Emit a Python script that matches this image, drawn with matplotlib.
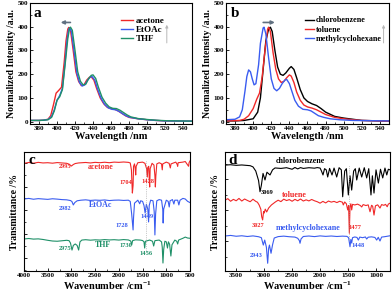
import numpy as np
import matplotlib
matplotlib.use("Agg")
import matplotlib.pyplot as plt
from matplotlib.ticker import MultipleLocator

plt.rcParams['font.family'] = ['Liberation Serif', 'DejaVu Serif']
plt.rcParams['font.weight'] = 'bold'
plt.rcParams['axes.labelweight'] = 'bold'
plt.rcParams['xtick.direction'] = 'in'
plt.rcParams['ytick.direction'] = 'in'
plt.rcParams['mathtext.fontset'] = 'custom'
plt.rcParams['mathtext.rm'] = 'Liberation Serif:bold'
plt.rcParams['mathtext.bf'] = 'Liberation Serif:bold'
plt.rcParams['mathtext.default'] = 'bf'

# ---- panel a : emission in polar solvents ----
wl_acetone = [370, 380, 385, 390, 393, 396, 399, 402, 405, 408, 410, 412, 413, 415, 418, 421, 424, 427,
              430, 433, 436, 438, 441, 444, 448, 452, 456, 460, 464, 468, 472, 476, 480, 490, 500, 510, 520, 550]
int_acetone = [5, 5, 6, 10, 25, 70, 120, 132, 145, 250, 340, 390, 397, 385, 300, 210, 170, 152,
               155, 175, 187, 189, 175, 140, 100, 75, 60, 55, 52, 45, 35, 25, 18, 12, 8, 5, 3, 2]
wl_etoac = [370, 380, 385, 390, 394, 397, 400, 403, 406, 409, 411, 413, 414, 416, 419, 422, 425, 428,
            431, 434, 437, 439, 442, 445, 449, 453, 457, 461, 465, 469, 473, 477, 481, 490, 500, 510, 520, 550]
int_etoac = [5, 5, 6, 9, 22, 50, 90, 110, 140, 250, 340, 390, 395, 380, 295, 205, 165, 150,
             155, 175, 188, 190, 175, 138, 98, 72, 58, 52, 50, 43, 33, 24, 18, 12, 8, 5, 3, 2]
wl_thf = [370, 380, 385, 390, 394, 397, 400, 403, 406, 409, 412, 414, 415, 417, 420, 423, 426, 429,
          432, 435, 438, 440, 443, 446, 450, 454, 458, 462, 466, 470, 474, 478, 482, 490, 500, 510, 520, 550]
int_thf = [5, 5, 6, 8, 18, 45, 90, 105, 135, 240, 350, 395, 398, 385, 300, 210, 170, 155,
           158, 180, 195, 197, 182, 145, 103, 78, 62, 56, 55, 48, 38, 28, 20, 13, 9, 6, 4, 2]

# ---- panel b : emission in apolar solvents ----
wl_chloro = [370, 380, 390, 400, 405, 408, 411, 414, 417, 419, 421, 424, 427, 430, 433, 436, 440, 442,
             445, 448, 452, 456, 460, 465, 470, 475, 480, 490, 500, 510, 520, 550]
int_chloro = [3, 3, 5, 12, 40, 100, 220, 340, 390, 398, 380, 300, 230, 200, 195, 205, 225, 232,
              220, 185, 135, 100, 85, 75, 68, 55, 40, 22, 15, 10, 5, 2]
wl_toluene = [370, 385, 390, 395, 400, 404, 407, 410, 413, 416, 417, 419, 422, 425, 428, 431, 434, 437,
              440, 442, 445, 448, 452, 456, 460, 465, 470, 475, 480, 490, 500, 510, 520, 550]
int_toluene = [3, 5, 10, 25, 55, 95, 120, 190, 300, 390, 398, 380, 290, 220, 180, 165, 170, 185,
               197, 192, 165, 125, 90, 70, 62, 57, 50, 40, 30, 18, 12, 8, 5, 2]
wl_mch = [370, 380, 385, 388, 391, 393, 395, 397, 399, 401, 403, 406, 408, 411, 412, 414, 417, 420,
          423, 426, 429, 432, 435, 437, 440, 443, 446, 450, 455, 460, 464, 468, 472, 478, 485, 495, 510, 550]
int_mch = [8, 10, 20, 50, 130, 190, 218, 210, 180, 155, 160, 240, 330, 395, 398, 370, 270, 180,
           140, 130, 140, 160, 175, 178, 160, 125, 90, 65, 52, 50, 45, 35, 25, 18, 12, 8, 5, 3]

# ---- panel c : IR of polar solvents (stacked, arbitrary units) ----
wn_acetone = [4000, 3900, 3800, 3700, 3600, 3500, 3400, 3300, 3200, 3100, 3050, 3000, 2960, 2920, 2850,
              2700, 2600, 2500, 2400, 2300, 2200, 2100, 2000, 1900, 1800, 1760, 1735, 1715, 1700, 1690,
              1670, 1655, 1645, 1635, 1600, 1500, 1450, 1415, 1400, 1390, 1370, 1358, 1350, 1340, 1300,
              1260, 1240, 1230, 1220, 1200, 1150, 1100, 1085, 1075, 1000, 940, 915, 900, 800, 770, 760,
              750, 650, 600, 530, 520, 500]
tr_acetone = [90.5, 91.2, 90.6, 91.3, 90.8, 91.0, 90.6, 91.1, 90.8, 90.5, 89.8, 88.2, 89.5, 90.3, 90.8,
              91.2, 90.8, 91.3, 91.0, 91.4, 91.0, 91.5, 91.3, 91.6, 91.3, 90.8, 85, 65.5, 72, 88,
              90, 86, 80.7, 88, 91, 91.5, 90.5, 86, 79, 87, 88, 76, 70.6, 86, 90.5,
              89, 80, 70.6, 80, 90, 91, 90, 85, 90, 91.5, 90.5, 86.6, 90, 91.5, 89.5, 88,
              91, 91.5, 92, 88, 91, 92.5]
wn_etoac = [4000, 3900, 3800, 3700, 3600, 3500, 3400, 3300, 3200, 3100, 3020, 2990, 2960, 2930, 2880,
            2800, 2700, 2600, 2500, 2400, 2300, 2200, 2100, 2000, 1900, 1800, 1760, 1730, 1700, 1690,
            1670, 1600, 1560, 1540, 1500, 1470, 1446, 1420, 1390, 1373, 1360, 1330, 1280, 1255, 1240,
            1225, 1200, 1150, 1100, 1075, 1066, 1055, 1000, 960, 938, 920, 870, 840, 820, 760, 735,
            710, 650, 600, 550, 500]
tr_etoac = [60.5, 61, 60.3, 60.8, 60.5, 60.2, 60.7, 60.4, 60.0, 59.8, 59.2, 58.4, 55.5, 57.5, 59.0,
            59.5, 59.8, 59.3, 59.6, 59.4, 59.7, 59.2, 59.5, 59.6, 59.3, 59.5, 58.5, 48, 34.5, 45,
            57, 59.5, 56.5, 59, 58.5, 55, 48.7, 56, 52, 41.2, 55, 59.5, 59, 50, 30.3,
            48, 59, 60, 59.5, 52, 40.3, 52, 59.5, 58.5, 53.8, 59, 60, 56.3, 59.5, 59.5, 55.5,
            59.5, 61, 60.5, 58.5, 57.5]
wn_thf = [4000, 3900, 3800, 3700, 3600, 3500, 3400, 3300, 3200, 3100, 3050, 3020, 2988, 2960, 2920,
          2880, 2848, 2820, 2780, 2700, 2600, 2500, 2400, 2300, 2200, 2100, 2000, 1900, 1800, 1750,
          1730, 1710, 1650, 1550, 1500, 1470, 1456, 1440, 1350, 1290, 1266, 1240, 1150, 1100, 1085,
          1070, 1055, 1030, 1000, 975, 955, 930, 903, 880, 820, 780, 760, 740, 650, 600, 550, 500]
tr_thf = [26.9, 27.3, 26.8, 27.0, 26.5, 25.8, 25.2, 25.0, 25.4, 25.8, 25.5, 23.5, 17.6, 21.5, 22.7,
          21.5, 17.6, 24.5, 26.0, 26.3, 25.9, 26.2, 26.0, 26.4, 26.1, 26.3, 26.0, 26.4, 26.1, 25.2,
          21.8, 25.5, 26.2, 26.0, 25.6, 24.5, 19.3, 25.0, 26.0, 25.0, 21.0, 25.5, 26.0, 24.5, 20,
          6.7, 18, 25, 24.5, 19.3, 24.5, 22.5, 12.6, 22, 26, 25, 22.7, 26, 27.5, 28.5, 27.7, 27.5]

# ---- panel d : IR of apolar solvents (stacked, arbitrary units) ----
wn_chloro = [3700, 3600, 3500, 3400, 3300, 3250, 3200, 3150, 3100, 3074, 3050, 3020, 2985, 2950, 2895,
             2850, 2806, 2700, 2600, 2500, 2450, 2400, 2350, 2300, 2200, 2100, 2050, 2000, 1975, 1948,
             1920, 1890, 1864, 1830, 1787, 1750, 1703, 1660, 1620, 1596, 1560, 1530, 1495, 1465, 1435,
             1400, 1370, 1345, 1300, 1256, 1210, 1167, 1130, 1090, 1065, 1036, 1000, 958, 920, 880,
             840, 808, 780, 750]
tr_chloro = [89, 89.3, 88.8, 89.1, 88.7, 88.5, 87.5, 84, 76, 66.6, 72, 82, 76.5, 83, 80.7,
             85, 86.6, 86.2, 86.8, 85.5, 87, 85.8, 86.9, 86.2, 86.8, 86.4, 86.9, 86.5, 84, 80.7,
             86, 85, 79, 86.2, 80.7, 86.5, 79, 86.8, 85, 62.4, 84, 86, 63.9, 80, 68,
             84, 86, 76.5, 86.5, 79, 86.8, 78.2, 86, 63.9, 80, 65.5, 85, 73.9, 85.5, 78.2,
             86.5, 80.7, 85.5, 85]
wn_tol = [3700, 3650, 3600, 3550, 3500, 3450, 3400, 3350, 3300, 3250, 3200, 3150, 3120, 3090, 3060,
          3044, 3027, 3010, 3000, 2980, 2955, 2920, 2870, 2800, 2750, 2700, 2650, 2600, 2550, 2500,
          2450, 2400, 2350, 2300, 2250, 2200, 2150, 2100, 2050, 2000, 1950, 1900, 1850, 1800, 1750,
          1700, 1650, 1600, 1585, 1560, 1530, 1506, 1490, 1477, 1465, 1450, 1435, 1420, 1380, 1330,
          1280, 1256, 1230, 1180, 1140, 1107, 1080, 1060, 1036, 1010, 970, 929, 900, 860, 830,
          800, 780, 750]
tr_tol = [59.5, 60.8, 58.6, 60.2, 59.0, 61.0, 58.8, 60.5, 59.3, 58.2, 60.3, 58.5, 57.8, 55.5, 52,
          45.6, 42.9, 50, 48.7, 52, 49.6, 52.9, 55.5, 58, 59.5, 58.3, 60.4, 59.2, 60.0, 58.6,
          60.2, 59.0, 60.5, 58.8, 59.8, 58.9, 60.1, 59.0, 58.2, 57, 58.5, 57.2, 58.8, 57.9, 58.5,
          57.5, 58.6, 57.8, 55.5, 58, 56.5, 51.3, 55, 31.7, 54, 56.5, 51.3, 56, 55.5, 56.2,
          55.0, 53.8, 55.8, 55.0, 55.6, 49.8, 55.2, 54.5, 47, 54.8, 55.6, 52.9, 55.8, 55.2, 56,
          54, 56.2, 57]
wn_mch = [3700, 3600, 3500, 3400, 3300, 3200, 3100, 3050, 3015, 2990, 2960, 2937, 2920, 2905, 2877,
          2850, 2820, 2750, 2650, 2550, 2450, 2400, 2370, 2359, 2340, 2300, 2200, 2100, 2000, 1900,
          1800, 1700, 1600, 1520, 1490, 1465, 1450, 1435, 1420, 1380, 1340, 1316, 1290, 1240, 1190,
          1167, 1140, 1080, 1020, 988, 960, 929, 900, 850, 800, 750]
tr_mch = [29.4, 29.9, 29.2, 29.6, 29.0, 29.5, 28.8, 28.0, 21.8, 26, 20, 6.5, 19, 21.8, 14.9,
          22, 27.7, 28.9, 29.3, 28.8, 28.5, 27.5, 25.5, 23.3, 27, 29.0, 29.4, 28.9, 29.5, 29.1,
          29.4, 29.0, 29.3, 29.1, 28, 20.4, 26.5, 23.5, 28, 28.6, 28.2, 26, 28.5, 28.0, 28.6,
          26.9, 28.4, 28.7, 28.2, 26, 28.3, 25.2, 28.5, 28.8, 29.2, 29.6]

RED = '#f02828'
BLUE = '#3a5cf0'
GREEN = '#1f9068'
GRAY = '#9a9a9a'

W, H = 392, 295
fig = plt.figure(figsize=(W / 100, H / 100), dpi=100)


def box(l, t, r, b):
    return [l / W, (H - b) / H, (r - l) / W, (b - t) / H]


def style(ax):
    ax.tick_params(which='both', top=False, right=False, labelsize=5, pad=1.5)
    ax.tick_params(which='major', length=2.5, width=0.6)
    ax.tick_params(which='minor', length=1.5, width=0.5)
    for s in ax.spines.values():
        s.set_linewidth(0.8)


# panel a
ax1 = fig.add_axes(box(30, 3, 192, 124))
ax1.plot(wl_acetone, int_acetone, color=RED, lw=1, label='acetone')
ax1.plot(wl_etoac, int_etoac, color=BLUE, lw=1, label='EtOAc')
ax1.plot(wl_thf, int_thf, color=GREEN, lw=1, label='THF')
ax1.set_xlim(370, 550)
ax1.set_ylim(-10, 500)
ax1.xaxis.set_major_locator(MultipleLocator(20))
ax1.xaxis.set_minor_locator(MultipleLocator(10))
ax1.yaxis.set_major_locator(MultipleLocator(100))
ax1.yaxis.set_minor_locator(MultipleLocator(50))
ax1.set_xlabel('Wavelength /nm', fontsize=7.5, labelpad=1)
ax1.set_ylabel('Normalized Intensity /a.u.', fontsize=7, labelpad=1)
ax1.legend(loc='upper left', bbox_to_anchor=(0.53, 0.93), frameon=False, fontsize=6.5,
           handlelength=1.3, handletextpad=0.3, labelspacing=0.08, borderpad=0.1)
ax1.annotate('', xy=(401, 418), xytext=(418, 418),
             arrowprops=dict(arrowstyle='-|>', color='#607080', lw=1.2, mutation_scale=5))
ax1.annotate('', xy=(522, 420), xytext=(522, 320),
             arrowprops=dict(arrowstyle='-|>', color='#b8b8b8', lw=0.7, mutation_scale=4))
ax1.text(0.02, 0.97, 'a', transform=ax1.transAxes, fontsize=11, va='top', ha='left')
style(ax1)

# panel b
ax2 = fig.add_axes(box(226, 3, 389, 124))
ax2.plot(wl_chloro, int_chloro, color='black', lw=1, label='chlorobenzene')
ax2.plot(wl_toluene, int_toluene, color=RED, lw=1, label='toluene')
ax2.plot(wl_mch, int_mch, color=BLUE, lw=1, label='methylcyclohexane')
ax2.set_xlim(370, 550)
ax2.set_ylim(-10, 500)
ax2.xaxis.set_major_locator(MultipleLocator(20))
ax2.xaxis.set_minor_locator(MultipleLocator(10))
ax2.yaxis.set_major_locator(MultipleLocator(100))
ax2.yaxis.set_minor_locator(MultipleLocator(50))
ax2.set_xlabel('Wavelength /nm', fontsize=7.5, labelpad=1)
ax2.set_ylabel('Normalized Intensity /a.u.', fontsize=7, labelpad=1)
ax2.legend(loc='upper left', bbox_to_anchor=(0.455, 0.93), frameon=False, fontsize=5.9,
           handlelength=1.1, handletextpad=0.25, labelspacing=0.15, borderpad=0.1)
ax2.annotate('', xy=(427, 418), xytext=(408, 418),
             arrowprops=dict(arrowstyle='-|>', color='#607080', lw=1.2, mutation_scale=5))
ax2.annotate('', xy=(544, 420), xytext=(544, 320),
             arrowprops=dict(arrowstyle='-|>', color='#b8b8b8', lw=0.7, mutation_scale=4))
ax2.text(0.03, 0.97, 'b', transform=ax2.transAxes, fontsize=11, va='top', ha='left')
style(ax2)

# panel c
ax3 = fig.add_axes(box(24, 152, 190, 271))
ax3.plot(wn_acetone, tr_acetone, color=RED, lw=0.8)
ax3.plot(wn_etoac, tr_etoac, color=BLUE, lw=0.8)
ax3.plot(wn_thf, tr_thf, color=GREEN, lw=0.8)
ax3.plot([1418, 1418], [17.6, 93], color=GRAY, lw=0.5, ls=':')
ax3.set_xlim(4000, 500)
ax3.set_ylim(0, 100)
ax3.xaxis.set_major_locator(MultipleLocator(500))
ax3.xaxis.set_minor_locator(MultipleLocator(250))
ax3.set_yticks([11, 31, 51, 71, 91])
ax3.set_yticks([1, 21, 41, 61, 81], minor=True)
ax3.set_yticklabels([])
ax3.set_xlabel(r'Wavenumber /cm$^{-1}$', fontsize=7.5, labelpad=1)
ax3.set_ylabel('Transmittance /%', fontsize=7, labelpad=2)
ax3.text(0.03, 0.98, 'c', transform=ax3.transAxes, fontsize=11, va='top', ha='left')
fs = 4.6
for txt, x, y, c in [('2995', 3130, 87.4, RED), ('acetone', 2388, 87.4, RED),
                     ('1704', 1857, 74, RED), ('1428', 1391, 75.6, RED),
                     ('2982', 3130, 52.4, BLUE), ('EtOAc', 2388, 55.2, BLUE),
                     ('1449', 1412, 46, BLUE), ('1728', 1942, 38.4, BLUE),
                     ('2975', 3130, 19.3, GREEN), ('THF', 2324, 21.6, GREEN),
                     ('1730', 1857, 21.6, GREEN), ('1456', 1434, 14.3, GREEN)]:
    ax3.text(x, y, txt, color=c, fontsize=fs if txt[0].isdigit() else 5.8, ha='center', va='center')
style(ax3)

# panel d
ax4 = fig.add_axes(box(225, 152, 390, 271))
ax4.plot(wn_chloro, tr_chloro, color='black', lw=0.8)
ax4.plot(wn_tol, tr_tol, color=RED, lw=0.8)
ax4.plot(wn_mch, tr_mch, color=BLUE, lw=0.8)
ax4.plot([1478, 1478], [26, 89], color=GRAY, lw=0.5, ls=':')
ax4.set_xlim(3700, 750)
ax4.set_ylim(0, 100)
ax4.xaxis.set_major_locator(MultipleLocator(500))
ax4.xaxis.set_minor_locator(MultipleLocator(250))
ax4.set_yticks([25, 51, 77])
ax4.set_yticks([12, 38, 64, 90], minor=True)
ax4.set_yticklabels([])
ax4.set_xlabel(r'Wavenumber /cm$^{-1}$', fontsize=7.5, labelpad=1)
ax4.set_ylabel('Transmittance /%', fontsize=7, labelpad=2)
ax4.text(0.02, 0.98, 'd', transform=ax4.transAxes, fontsize=11, va='top', ha='left')
for txt, x, y, c in [('chlorobenzene', 2359, 92.4, 'black'), ('3069', 2955, 66.1, 'black'),
                     ('toluene', 2466, 63.6, RED), ('3027', 3115, 38.4, RED),
                     ('1477', 1375, 36.7, RED), ('methylcyclohexane', 2221, 36.1, BLUE),
                     ('2943', 3133, 13.4, BLUE), ('1448', 1327, 21.6, BLUE)]:
    ax4.text(x, y, txt, color=c, fontsize=fs if txt[0].isdigit() else 5.8, ha='center', va='center')
style(ax4)

fig.savefig('out.png', dpi=100)
